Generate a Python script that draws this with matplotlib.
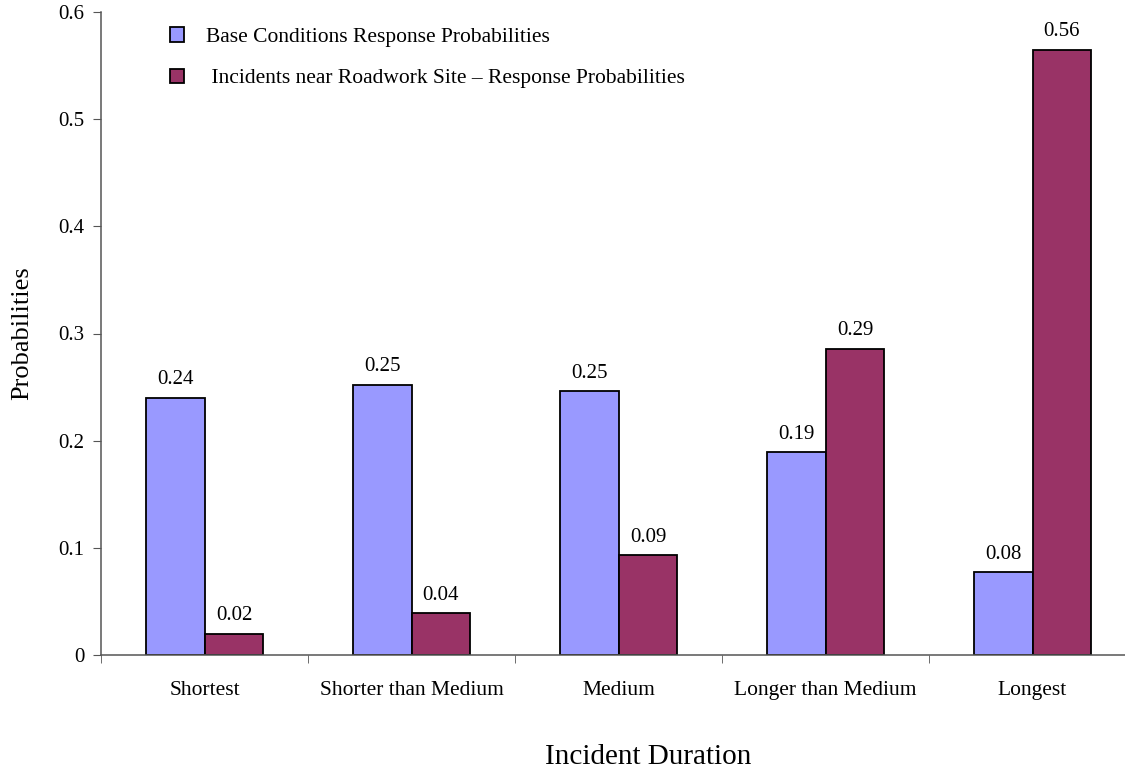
import matplotlib.pyplot as plt
import numpy as np
from matplotlib.patches import Patch

plt.rcParams["font.family"] = ["Liberation Serif", "DejaVu Serif"]

categories = ["Shortest", "Shorter than Medium", "Medium",
              "Longer than Medium", "Longest"]
base_probs = [0.240, 0.252, 0.246, 0.189, 0.077]
roadwork_probs = [0.020, 0.039, 0.093, 0.286, 0.565]
series_names = ["Base Conditions Response Probabilities",
                " Incidents near Roadwork Site \u2013 Response Probabilities"]
yticks = [0, 0.1, 0.2, 0.3, 0.4, 0.5, 0.6]

base_color = "#9999FF"
road_color = "#993366"

fig = plt.figure(figsize=(11.25, 7.71), dpi=100)
ax = fig.add_axes([101 / 1125, 1 - 655 / 771, 1035 / 1125, 643 / 771])

x = np.arange(len(categories))
w = 0.285
b1 = ax.bar(x - w / 2, base_probs, w, color=base_color, edgecolor="black",
            linewidth=1.3, label=series_names[0])
b2 = ax.bar(x + w / 2, roadwork_probs, w, color=road_color, edgecolor="black",
            linewidth=1.3, label=series_names[1])

for bars, vals in ((b1, base_probs), (b2, roadwork_probs)):
    for r, v in zip(bars, vals):
        ax.text(r.get_x() + r.get_width() / 2, v + 0.008, f"{v:.2f}",
                ha="center", va="bottom", fontsize=15)

ax.set_xlim(-0.5, len(categories) - 0.5)
ax.set_ylim(0, 0.6)
ax.set_yticks(yticks)
ax.set_yticklabels([f"{t:g}" for t in yticks], fontsize=15)
ax.set_xticks(x)
ax.set_xticklabels(categories, fontsize=15.5)
ax.set_xticks(np.arange(len(categories) + 1) - 0.5, minor=True)
ax.tick_params(axis="x", which="major", length=0, pad=19)
ax.tick_params(axis="x", which="minor", length=6, color="#555555")
ax.tick_params(axis="y", length=6, color="#555555", pad=6)

for s in ("top", "right"):
    ax.spines[s].set_visible(False)
for s in ("left", "bottom"):
    ax.spines[s].set_color("#555555")
    ax.spines[s].set_linewidth(1.1)

fig.text(648 / 1125, 1 - 757 / 771, "Incident Duration", ha="center",
         va="center", fontsize=21)
fig.text(22 / 1125, 1 - 333 / 771, "Probabilities", ha="center",
         va="center", rotation=90, fontsize=19)

handles = [Patch(facecolor=base_color, edgecolor="black", linewidth=1.3),
           Patch(facecolor=road_color, edgecolor="black", linewidth=1.3)]
fig.legend(handles, series_names, loc="upper left",
           bbox_to_anchor=(151 / 1125, 1 - 8 / 771), frameon=False,
           fontsize=15.5, handlelength=0.65, handleheight=0.65,
           handletextpad=1.0, labelspacing=1.0)

fig.savefig("out.png", dpi=100)
